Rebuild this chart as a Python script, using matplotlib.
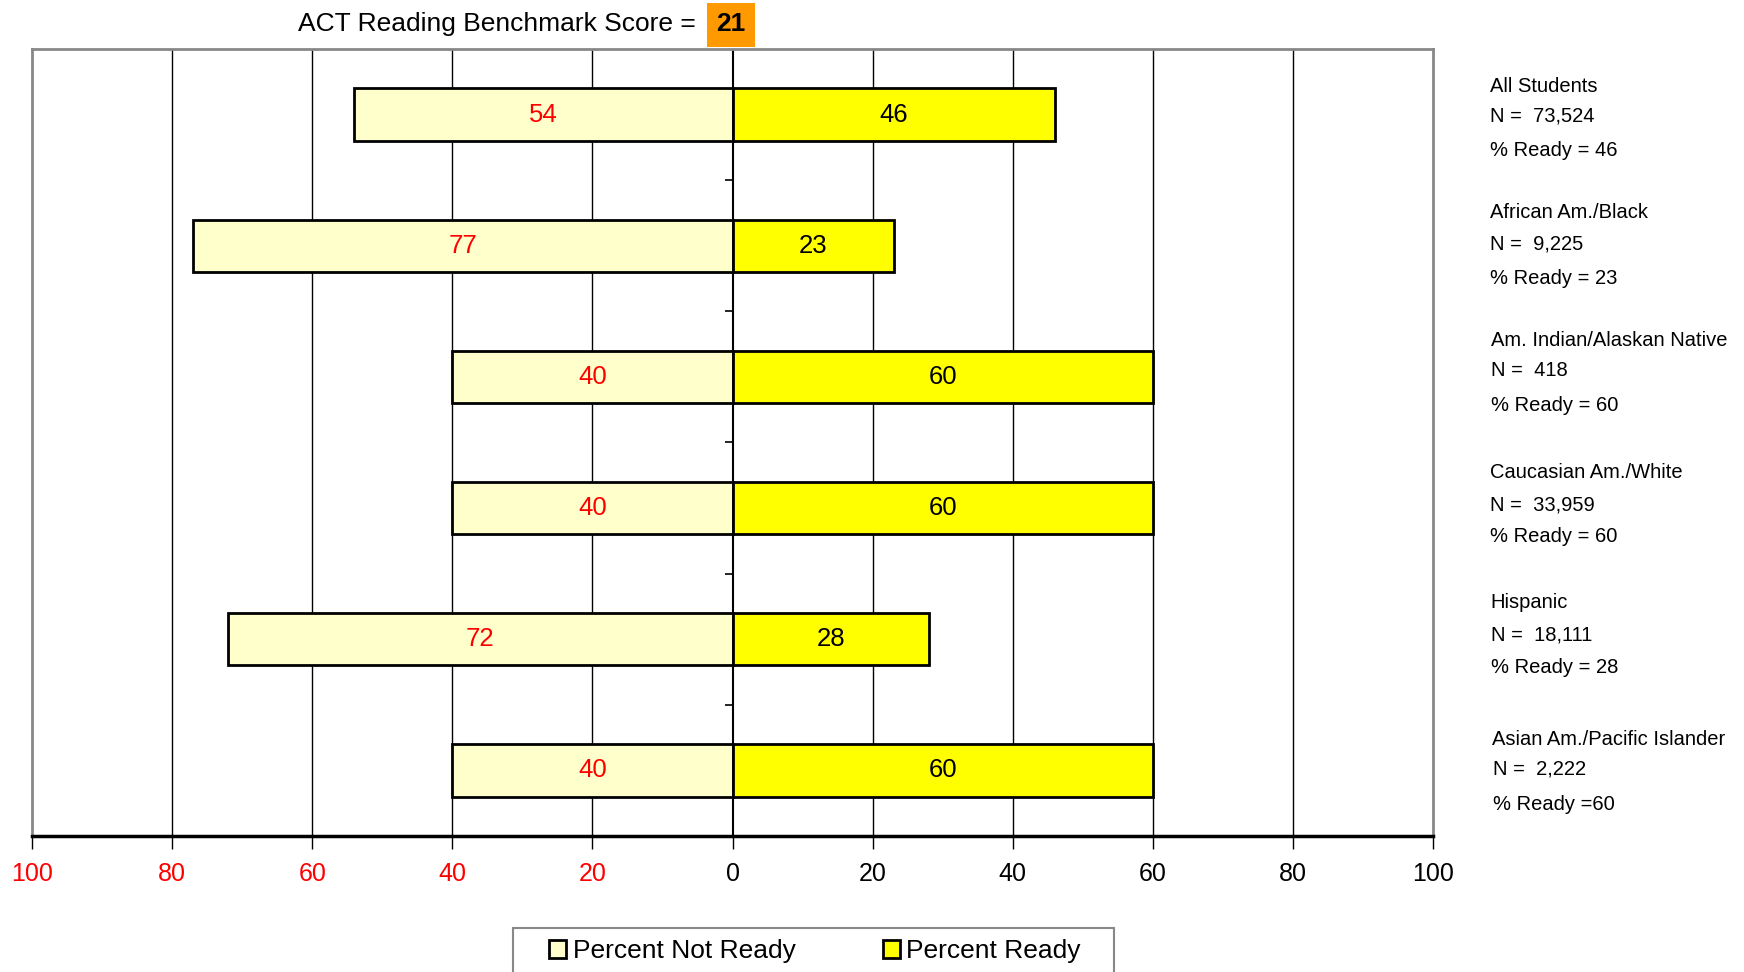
import matplotlib
matplotlib.use('Agg')
import matplotlib.pyplot as plt
from matplotlib.patches import Rectangle
from matplotlib.lines import TICKLEFT

plt.rcParams['font.family'] = ['Liberation Sans', 'DejaVu Sans']

# data
groups = ['All Students', 'African Am./Black', 'Am. Indian/Alaskan Native',
          'Caucasian Am./White', 'Hispanic', 'Asian Am./Pacific Islander']
n_labels = ['N =  73,524', 'N =  9,225', 'N =  418', 'N =  33,959', 'N =  18,111', 'N =  2,222']
ready_labels = ['% Ready = 46', '% Ready = 23', '% Ready = 60', '% Ready = 60', '% Ready = 28', '% Ready =60']
not_ready = [54, 77, 40, 40, 72, 40]
ready = [46, 23, 60, 60, 28, 60]
benchmark = 21

W, H = 1744, 972
fig = plt.figure(figsize=(W / 100, H / 100), dpi=100)
ax = fig.add_axes([32 / W, 1 - 836 / H, (1433 - 32) / W, (836 - 49) / H])

ypos = list(range(len(groups)))
neg = [-v for v in not_ready]

for x in [-80, -60, -40, -20, 20, 40, 60, 80]:
    ax.axvline(x, color='black', lw=1, zorder=0)
ax.axvline(0, color='black', lw=1.5, zorder=1)

ax.barh(ypos, neg, height=0.4, color='#FFFFCC', edgecolor='black', lw=2,
        label='Percent Not Ready', zorder=2)
ax.barh(ypos, ready, height=0.4, color='#FFFF00', edgecolor='black', lw=2,
        label='Percent Ready', zorder=2)

for y, a, b in zip(ypos, not_ready, ready):
    ax.text(-a / 2, y, str(a), color='red', fontsize=18.5, ha='center', va='center', zorder=3)
    ax.text(b / 2, y, str(b), color='black', fontsize=18.5, ha='center', va='center', zorder=3)

# small ticks on the zero line between groups
ax.plot([0] * (len(groups) - 1), [y + 0.5 for y in ypos[:-1]], ls='none',
        marker=TICKLEFT, ms=6, mew=1.2, color='black', zorder=3)

ax.set_xlim(-100, 100)
ax.set_ylim(len(groups) - 0.5, -0.5)
ax.set_yticks([])
ticks = list(range(-100, 101, 20))
ax.set_xticks(ticks)
ax.set_xticklabels([str(abs(t)) for t in ticks], fontsize=18)
for lab, t in zip(ax.get_xticklabels(), ticks):
    if t < 0:
        lab.set_color('red')
ax.tick_params(axis='x', length=9, width=1, pad=10, direction='out')

for s in ['top', 'left', 'right']:
    ax.spines[s].set_color('#888888')
    ax.spines[s].set_linewidth(2)
ax.spines['bottom'].set_color('black')
ax.spines['bottom'].set_linewidth(2.5)

# title with orange box
fig.text(298 / W, 1 - 24 / H, 'ACT Reading Benchmark Score =', fontsize=19,
         ha='left', va='center')
fig.patches.append(Rectangle((707 / W, 1 - 47 / H), 48 / W, 44 / H,
                             transform=fig.transFigure, facecolor='#FF9900',
                             edgecolor='none'))
fig.text(731 / W, 1 - 24 / H, str(benchmark), fontsize=19, fontweight='bold',
         ha='center', va='center')

# group notes on the right
line_y = [(86, 116, 150), (213, 244, 278), (340, 370, 405),
          (472, 505, 536), (603, 635, 667), (739, 769, 804)]
x_off = [0, 0, 1, 0, 1, 3]
for i in range(len(groups)):
    y1, y2, y3 = line_y[i]
    fig.text(1490 / W + (x_off[i] * 0.5) / W, 1 - y1 / H, groups[i], fontsize=14.5, va='center')
    fig.text((1490 + x_off[i]) / W, 1 - y2 / H, n_labels[i], fontsize=14.5, va='center')
    fig.text((1490 + x_off[i]) / W, 1 - y3 / H, ready_labels[i], fontsize=14.5, va='center')

# legend box (cut off by the figure bottom like the original)
fig.patches.append(Rectangle((513 / W, -0.05), (1114 - 513) / W, 0.05 + 1 - 928 / H,
                             transform=fig.transFigure, facecolor='white',
                             edgecolor='#888888', lw=1.5))
leg = fig.legend(loc='center', bbox_to_anchor=(815 / W, 1 - 951 / H), ncol=2,
                 fontsize=19, frameon=False,
                 handlelength=0.65, handleheight=0.65, handletextpad=0.25,
                 columnspacing=3.3, borderpad=0, borderaxespad=0)

fig.savefig('out.png', dpi=100)
